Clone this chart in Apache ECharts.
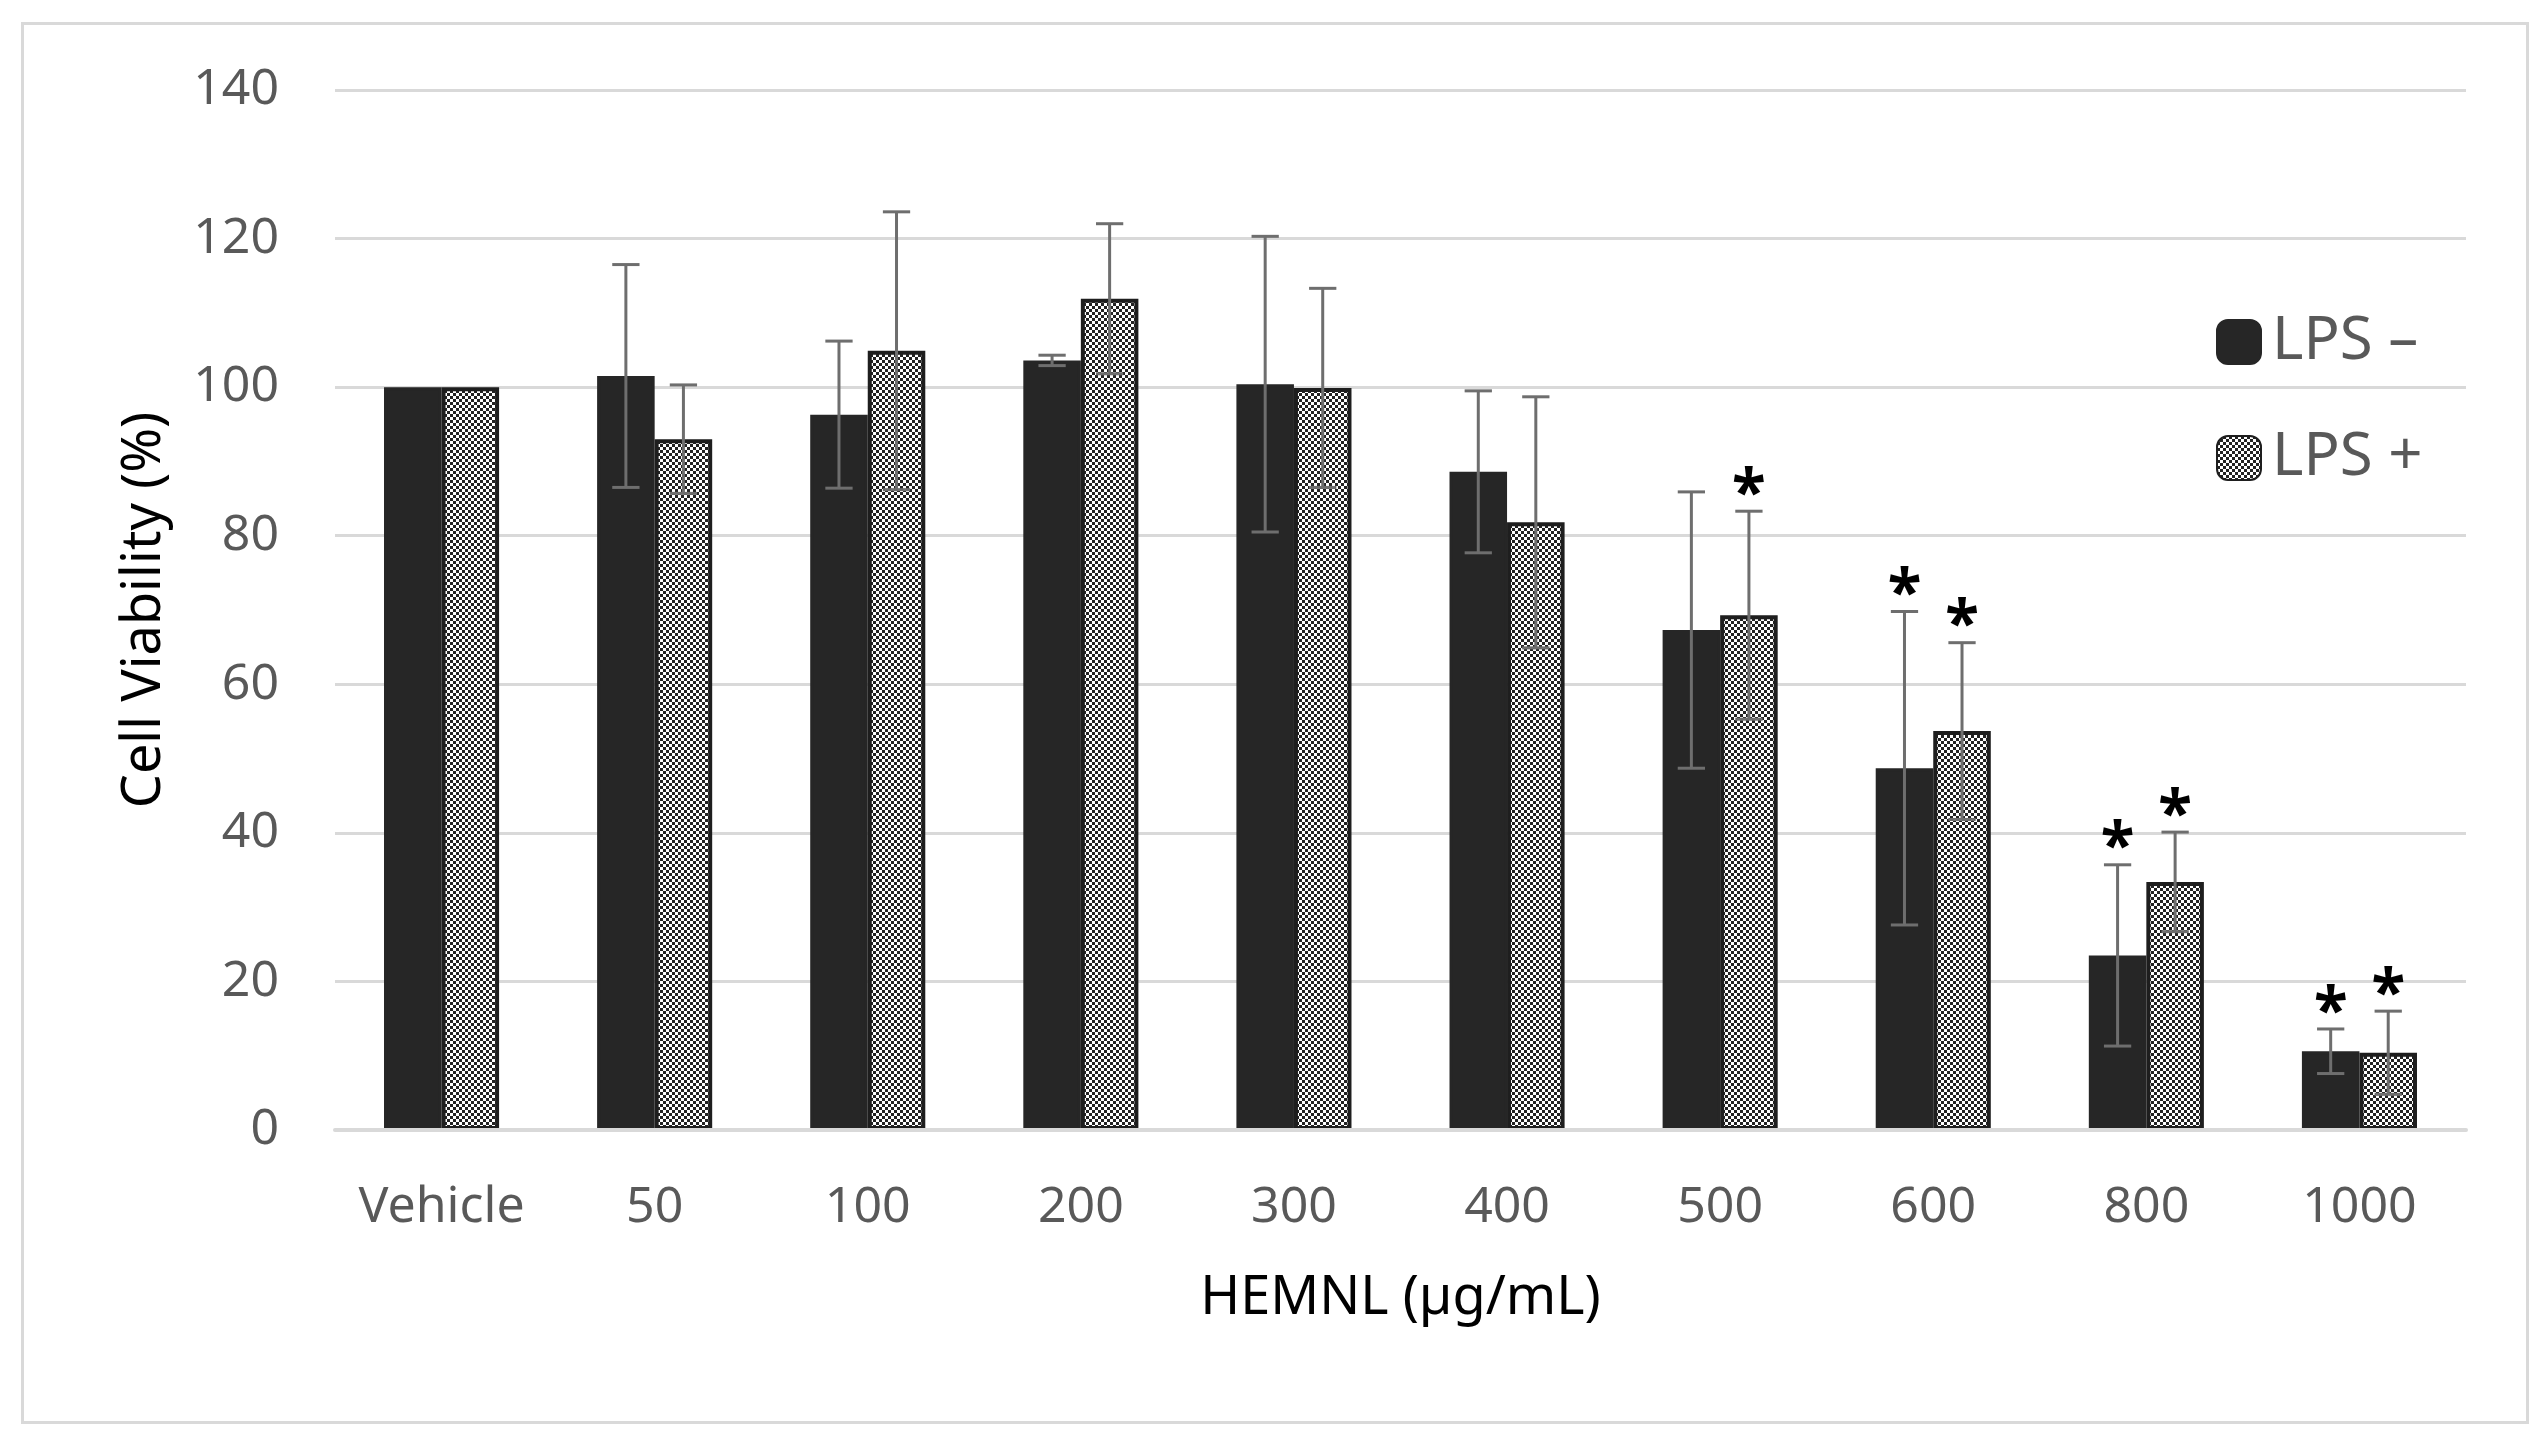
<!DOCTYPE html>
<html>
<head>
<meta charset="utf-8">
<script src="https://cdn.jsdelivr.net/npm/echarts@6/dist/echarts.min.js"></script>
<style>
html,body{margin:0;padding:0;background:#fff;}
#chart{width:2541px;height:1449px;}
</style>
</head>
<body>
<div id="chart"></div>
<script>
// ---- data ----
const categories = ['Vehicle', '50', '100', '200', '300', '400', '500', '600', '800', '1000'];
const lpsMinus    = [100, 101.5, 96.3, 103.6, 100.4, 88.6, 67.3, 48.7, 23.5, 10.6];
const lpsMinusErr = [0, 15.0, 9.9, 0.7, 19.9, 10.9, 18.6, 21.1, 12.2, 3.0];
const lpsMinusSig = [0, 0, 0, 0, 0, 0, 0, 1, 1, 1];
const lpsPlus     = [100, 93.0, 104.9, 111.9, 99.9, 81.8, 69.3, 53.7, 33.4, 10.4];
const lpsPlusErr  = [0, 7.3, 18.7, 10.1, 13.4, 16.9, 14.0, 11.9, 6.7, 5.6];
const lpsPlusSig  = [0, 0, 0, 0, 0, 0, 1, 1, 1, 1];
const yTicks = [0, 20, 40, 60, 80, 100, 120, 140];
const seriesNames = ['LPS \u2013', 'LPS +'];

// ---- styling ----
const FONT = 'Noto Sans';
const BAR_FRAC = 0.27;
const DARK = '#262626';

const pc = document.createElement('canvas');
pc.width = 6; pc.height = 6;
const pctx = pc.getContext('2d');
pctx.fillStyle = '#ffffff';
pctx.fillRect(0, 0, 6, 6);
pctx.fillStyle = '#222222';
pctx.fillRect(0, 0, 3, 3);
pctx.fillRect(3, 3, 3, 3);
const checker = { image: pc, repeat: 'repeat' };

function errData(vals, errs, sig) {
  return vals.map((v, i) => [i, v, errs[i], sig[i]]);
}

function makeErr(side) {
  return function (params, api) {
    const cat = api.value(0), m = api.value(1), e = api.value(2), s = api.value(3);
    const band = api.size([1, 0])[0];
    const off = side * band * BAR_FRAC / 2;
    const top = api.coord([cat, m + e]);
    const bot = api.coord([cat, m - e]);
    const x = top[0] + off;
    const cap = band * 0.064;
    const st = { stroke: '#6e6e6e', lineWidth: 3 };
    const children = [];
    if (e > 0) {
      children.push({ type: 'line', shape: { x1: x, y1: top[1], x2: x, y2: bot[1] }, style: st });
      children.push({ type: 'line', shape: { x1: x - cap, y1: top[1], x2: x + cap, y2: top[1] }, style: st });
      children.push({ type: 'line', shape: { x1: x - cap, y1: bot[1], x2: x + cap, y2: bot[1] }, style: st });
    }
    if (s) {
      children.push({
        type: 'text',
        style: {
          text: '*', x: x, y: top[1] - 15,
          align: 'center', verticalAlign: 'middle',
          fill: '#000', fontSize: 62, fontWeight: 'bold', fontFamily: FONT
        }
      });
    }
    return { type: 'group', children: children };
  };
}

const chart = echarts.init(document.getElementById('chart'));
chart.setOption({
  backgroundColor: '#ffffff',
  animation: false,
  graphic: [{
    type: 'rect', left: 20, top: 21,
    shape: { width: 2505, height: 1399 },
    style: { fill: 'none', stroke: '#d9d9d9', lineWidth: 3 },
    z: -10
  }],
  grid: { left: 335, right: 75, top: 90, bottom: 319, containLabel: false },
  legend: {
    orient: 'vertical', left: 2211, top: 307,
    itemWidth: 44, itemHeight: 44, itemGap: 56,
    icon: 'roundRect',
    data: seriesNames,
    textStyle: { fontFamily: FONT, fontSize: 60, color: '#595959', padding: [0, 0, 0, 6] }
  },
  xAxis: {
    type: 'category', data: categories, z: 5,
    axisLine: { show: true, lineStyle: { color: '#d9d9d9', width: 4 } },
    axisTick: { show: false },
    axisLabel: { interval: 0, fontFamily: FONT, fontSize: 50, color: '#595959', margin: 50, lineHeight: 56 },
    name: 'HEMNL (\u00b5g/mL)', nameLocation: 'middle', nameGap: 142,
    nameTextStyle: { fontFamily: FONT, fontSize: 54, color: '#000' }
  },
  yAxis: {
    type: 'value', min: yTicks[0], max: yTicks[yTicks.length - 1], interval: yTicks[1] - yTicks[0],
    axisLine: { show: false }, axisTick: { show: false },
    splitLine: { lineStyle: { color: '#d9d9d9', width: 3 } },
    axisLabel: { fontFamily: FONT, fontSize: 50, color: '#595959', margin: 56 },
    name: 'Cell Viability (%)', nameLocation: 'middle', nameGap: 163,
    nameTextStyle: { fontFamily: FONT, fontSize: 54, color: '#000' }
  },
  series: [
    {
      name: seriesNames[0], type: 'bar', data: lpsMinus,
      barWidth: (BAR_FRAC * 100) + '%', barGap: '0%',
      itemStyle: { color: DARK, borderColor: DARK, borderWidth: 3 }
    },
    {
      name: seriesNames[1], type: 'bar', data: lpsPlus,
      barWidth: (BAR_FRAC * 100) + '%', barGap: '0%',
      itemStyle: { color: checker, borderColor: '#1e1e1e', borderWidth: 4 }
    },
    {
      type: 'custom', renderItem: makeErr(-1), data: errData(lpsMinus, lpsMinusErr, lpsMinusSig),
      encode: { x: 0, y: 1 }, z: 10, silent: true
    },
    {
      type: 'custom', renderItem: makeErr(1), data: errData(lpsPlus, lpsPlusErr, lpsPlusSig),
      encode: { x: 0, y: 1 }, z: 10, silent: true
    }
  ]
});
</script>
</body>
</html>
